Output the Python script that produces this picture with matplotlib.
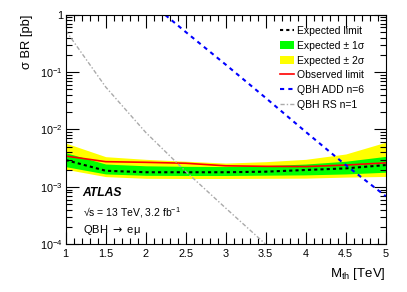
import numpy as np
import matplotlib.pyplot as plt
from matplotlib.patches import Patch
from matplotlib.lines import Line2D
from matplotlib.ticker import FixedLocator, LogLocator, NullFormatter, FuncFormatter

plt.rcParams['font.family'] = ['Liberation Sans', 'DejaVu Sans']
plt.rcParams['mathtext.fontset'] = 'custom'
plt.rcParams['mathtext.rm'] = 'Liberation Sans'
plt.rcParams['mathtext.it'] = 'Liberation Sans:italic'
plt.rcParams['mathtext.bf'] = 'Liberation Sans:bold'

# limits vs threshold mass [TeV]
mass = [1.0, 1.5, 2.0, 2.5, 3.0, 3.5, 4.0, 4.5, 5.0]
exp_lim = [2.94e-3, 1.91e-3, 1.80e-3, 1.80e-3, 1.80e-3, 1.84e-3, 1.97e-3, 2.10e-3, 2.40e-3]
obs_lim = [3.45e-3, 2.75e-3, 2.68e-3, 2.58e-3, 2.33e-3, 2.28e-3, 2.26e-3, 2.40e-3, 2.62e-3]
s1_hi = [3.94e-3, 2.50e-3, 2.33e-3, 2.28e-3, 2.26e-3, 2.35e-3, 2.50e-3, 2.80e-3, 3.40e-3]
s1_lo = [2.25e-3, 1.68e-3, 1.59e-3, 1.58e-3, 1.58e-3, 1.60e-3, 1.62e-3, 1.68e-3, 1.80e-3]
s2_hi = [5.80e-3, 3.36e-3, 3.02e-3, 2.80e-3, 2.60e-3, 2.75e-3, 3.02e-3, 3.74e-3, 6.00e-3]
s2_lo = [2.02e-3, 1.51e-3, 1.41e-3, 1.40e-3, 1.40e-3, 1.41e-3, 1.42e-3, 1.48e-3, 1.52e-3]

# theory curves
mass_add = [2.0, 2.5, 3.0, 3.5, 4.0, 4.5, 5.0]
xs_add = [1.9, 0.50, 0.135, 0.0355, 0.0091, 0.0024, 0.00069]
mass_rs = [1.0, 1.5, 2.0, 2.5, 3.0, 3.5]
xs_rs = [0.53, 0.055, 0.0089, 0.00186, 0.000427, 0.0001]

fig = plt.figure(figsize=(4.07, 2.92), dpi=100)
ax = fig.add_axes([0.1614, 0.1634, 0.7863, 0.7863])

ax.fill_between(mass, s2_lo, s2_hi, color='#ffff00', lw=0)
ax.fill_between(mass, s1_lo, s1_hi, color='#00ff00', lw=0)
ax.plot(mass, exp_lim, color='black', lw=1.5, dashes=(1.5, 1.5))
ax.plot(mass, obs_lim, color='red', lw=1.2)
ax.plot(mass_add, xs_add, color='blue', lw=1.5, dashes=(2, 2))
ax.plot(mass_rs, xs_rs, color='#aaaaaa', lw=1.0, dashes=(3, 1.5, 1, 1.5))

ax.set_yscale('log')
ax.set_xlim(1, 5)
ax.set_ylim(1e-4, 1)

ax.xaxis.set_major_locator(FixedLocator([1, 1.5, 2, 2.5, 3, 3.5, 4, 4.5, 5]))
ax.xaxis.set_minor_locator(FixedLocator(np.arange(1, 5.01, 0.1)))
ax.xaxis.set_major_formatter(FuncFormatter(lambda v, p: '%g' % v))
ax.yaxis.set_major_locator(FixedLocator([1e-4, 1e-3, 1e-2, 1e-1, 1]))
ax.yaxis.set_minor_locator(LogLocator(base=10, subs=np.arange(2, 10), numticks=20))
ax.yaxis.set_minor_formatter(NullFormatter())

def ylab(v, p):
    e = int(round(np.log10(v)))
    if e == 0:
        return '1'
    return r'$10^{%d}$' % e
ax.yaxis.set_major_formatter(FuncFormatter(ylab))

ax.tick_params(which='both', direction='in', top=True, right=True, labelsize=7.8)
ax.tick_params(axis='x', pad=3.5)
ax.tick_params(axis='y', pad=2)
ax.tick_params(which='major', length=9, width=0.8)
ax.tick_params(which='minor', length=4.5, width=0.8)

ax.set_xlabel(r'M$_{\rm th}$ [TeV]', fontsize=9.5)
ax.xaxis.set_label_coords(1.0, -0.095)
ax.xaxis.label.set_ha('right')
ax.set_ylabel('σ BR [pb]', fontsize=9.3)
ax.yaxis.set_label_coords(-0.102, 1.0)
ax.yaxis.label.set_ha('right')

ax.text(0.053, 0.222, 'ATLAS', transform=ax.transAxes, fontsize=8.7,
        fontweight='bold', fontstyle='italic', va='center')
ax.text(0.053, 0.138, '√s = 13 TeV, 3.2 fb$^{-1}$', transform=ax.transAxes,
        fontsize=7.5, va='center')
ax.text(0.053, 0.062, r'QBH $\rightarrow$ eμ', transform=ax.transAxes,
        fontsize=8.0, va='center', math_fontfamily='dejavusans')

handles = [
    Line2D([], [], color='black', lw=1.5, dashes=(1.5, 1.5)),
    Patch(facecolor='#00ff00', edgecolor='none'),
    Patch(facecolor='#ffff00', edgecolor='none'),
    Line2D([], [], color='red', lw=1.2),
    Line2D([], [], color='blue', lw=1.5, dashes=(2, 2)),
    Line2D([], [], color='#aaaaaa', lw=1.0, dashes=(3, 1.5, 1, 1.5)),
]
labels = ['Expected limit', 'Expected ± 1σ', 'Expected ± 2σ',
          'Observed limit', 'QBH ADD n=6', 'QBH RS n=1']
ax.legend(handles, labels, loc='upper left', bbox_to_anchor=(0.67, 0.952),
          frameon=False, fontsize=7.5, handlelength=1.35, handleheight=0.87,
          handletextpad=0.23, labelspacing=0.47, borderaxespad=0, borderpad=0)

fig.savefig('out.png', dpi=100)
